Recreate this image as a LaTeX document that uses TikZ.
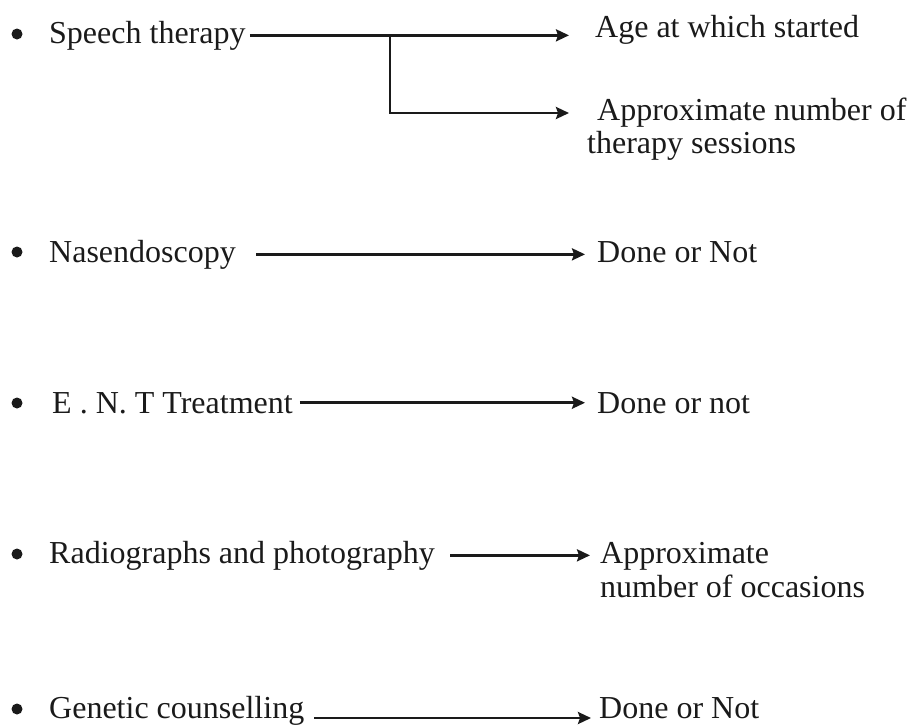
\documentclass[tikz,border=0pt]{standalone}
\usepackage{fontspec}
\setmainfont{Liberation Serif}
\usetikzlibrary{arrows.meta}
\definecolor{ink}{HTML}{1A1A1A}
\begin{document}
\begin{tikzpicture}[x=1pt,y=-1pt,
  every node/.style={font=\fontsize{32}{34}\selectfont, text=ink, inner sep=0pt},
  item/.style={anchor=base west},
  dot/.style={circle, fill=ink, minimum size=11pt, inner sep=0pt},
  link/.style={draw=ink, line width=2.6pt,
    -{Stealth[length=13pt,width=12pt,inset=2pt]}}]
\useasboundingbox (0,0) rectangle (910,726);

% Speech therapy, branching to two follow-up items
\node[dot]  (b1) at (17,34) {};
\node[item] (st) at (49,43) {Speech therapy};
\node[item] (age) at (595,37) {Age at which started};
\node[item] (apxa) at (597,120) {Approximate number of};
\node[item] (apxb) at (587,153) {therapy sessions};
\coordinate (tip1) at (569,34);
\coordinate (fork) at (390,34);
\coordinate (tip2) at (569,113);
\draw[link] ([xshift=4pt]st.east) -- (st.east -| tip1);
\draw[link] (st.east -| fork) |- (tip2);

% Nasendoscopy
\node[dot]  (b2) at (17,252) {};
\node[item] (nas) at (49,262) {Nasendoscopy};
\node[item] (dn1) at (597,262) {Done or Not};
\draw[link, shorten <=20pt, shorten >=12pt] (nas.east) -- (nas.east -| dn1.west);

% E.N.T treatment
\node[dot]  (b3) at (17,403) {};
\node[item] (ent) at (52,413) {E . N. T Treatment};
\node[item] (dn2) at (597,413) {Done or not};
\draw[link, shorten <=7pt, shorten >=12pt] (ent.east) -- (ent.east -| dn2.west);

% Radiographs and photography
\node[dot]  (b4) at (17,554) {};
\node[item] (rad) at (49,563) {Radiographs and photography};
\node[item] (occa) at (600,563) {Approximate};
\node[item] (occb) at (600,597) {number of occasions};
\draw[link, shorten <=15pt, shorten >=10pt] (rad.east) -- (rad.east -| occa.west);

% Genetic counselling
\node[dot]  (b5) at (17,709) {};
\node[item] (gen) at (49,718) {Genetic counselling};
\node[item] (dn3) at (599,718) {Done or Not};
\draw[link, shorten <=10pt, shorten >=8pt] (gen.base east) -- (gen.base east -| dn3.west);
\end{tikzpicture}
\end{document}
